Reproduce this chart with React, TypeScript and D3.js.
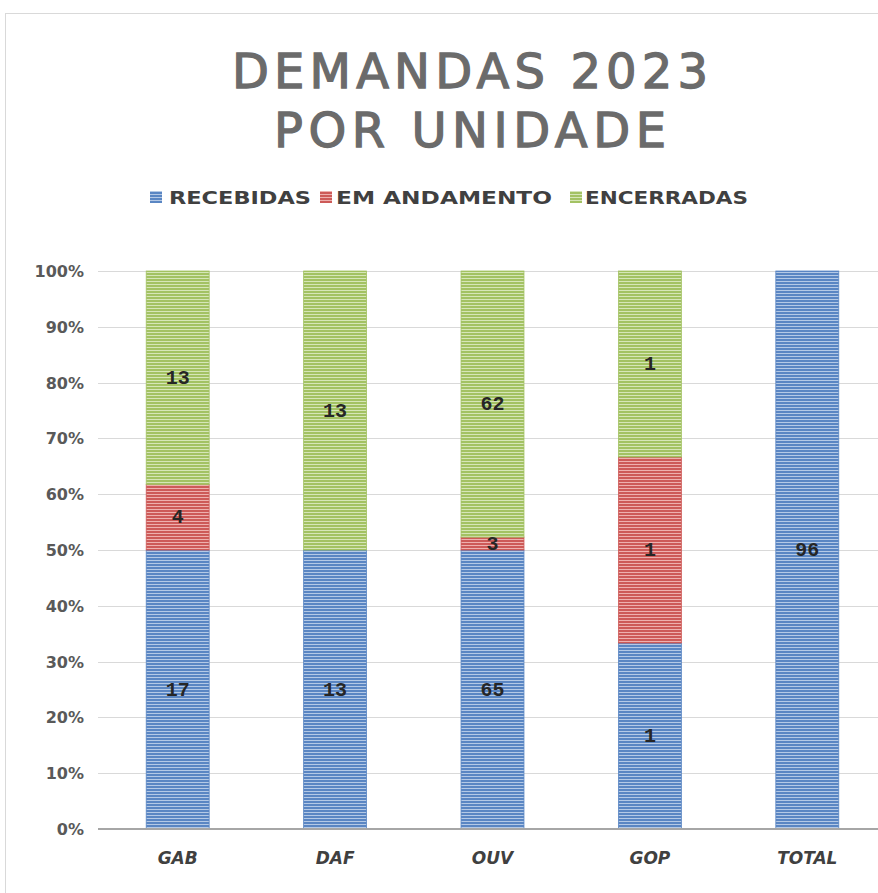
import React from "react";
import * as d3 from "d3";

const categories = ["GAB", "DAF", "OUV", "GOP", "TOTAL"];
const seriesNames = ["RECEBIDAS", "EM ANDAMENTO", "ENCERRADAS"];
const recebidas = [17, 13, 65, 1, 96];
const emAndamento = [4, 0, 3, 1, 0];
const encerradas = [13, 13, 62, 1, 0];
const yTicks = [0, 0.1, 0.2, 0.3, 0.4, 0.5, 0.6, 0.7, 0.8, 0.9, 1];

const colors = ["#5a86c3", "#cd5a58", "#a3c263"];
const lightColors = ["#b4c9e6", "#eeb0ae", "#d6e6b8"];

export default function App() {
  const W = 878, H = 893;
  const x = d3.scaleBand<string>().domain(categories).range([99, 886]).paddingInner(0.6).paddingOuter(0.3);
  const y = d3.scaleLinear().domain([0, 1]).range([829, 271]);
  const table = categories.map((c, i) => ({ cat: c, s0: recebidas[i], s1: emAndamento[i], s2: encerradas[i] }));
  const stack = d3.stack<any>().keys(["s0", "s1", "s2"]).offset(d3.stackOffsetExpand);
  const layers = stack(table);
  const font = "'DejaVu Sans', sans-serif";
  const legendItems = [
    { mx: 150, tx: 169, tw: 142 },
    { mx: 320, tx: 336, tw: 216 },
    { mx: 570, tx: 585, tw: 163 },
  ];
  return (
    <svg width={W} height={H} style={{ position: "absolute", left: 0, top: 0, background: "#fff" }}>
      <defs>
        {colors.map((c, i) => (
          <pattern key={i} id={`pat${i}`} width={4} height={3} patternUnits="userSpaceOnUse">
            <rect width={4} height={3} fill={lightColors[i]} />
            <rect width={4} height={2} fill={c} />
          </pattern>
        ))}
      </defs>
      <rect x={0} y={0} width={W} height={H} fill="#fff" />
      <line x1={5.5} x2={5.5} y1={13} y2={H} stroke="#d9d9d9" />
      <line x1={5} x2={W} y1={13.5} y2={13.5} stroke="#d9d9d9" />
      <text x={470} y={88} textAnchor="middle" fontFamily={font} fontSize={48} fill="#6b6b6b" stroke="#6b6b6b" strokeWidth={1.3} textLength={476} lengthAdjust="spacing">DEMANDAS 2023</text>
      <text x={470} y={147} textAnchor="middle" fontFamily={font} fontSize={48} fill="#6b6b6b" stroke="#6b6b6b" strokeWidth={1.3} textLength={392} lengthAdjust="spacing">POR UNIDADE</text>
      {seriesNames.map((s, i) => (
        <g key={s}>
          <rect x={legendItems[i].mx} y={191} width={12} height={12} fill={`url(#pat${i})`} />
          <text x={legendItems[i].tx} y={204} fontFamily={font} fontWeight="bold" fontSize={17} fill="#404040" textLength={legendItems[i].tw} lengthAdjust="spacingAndGlyphs">{s}</text>
        </g>
      ))}
      {yTicks.map((t) => (
        <g key={t}>
          {t > 0 && <line x1={98} x2={W} y1={Math.round(y(t)) + 0.5} y2={Math.round(y(t)) + 0.5} stroke="#d9d9d9" />}
          <text x={84} y={y(t) + 6} textAnchor="end" fontFamily={font} fontWeight="bold" fontSize={16} fill="#595959">{Math.round(t * 100) + "%"}</text>
        </g>
      ))}
      {layers.map((layer, li) => (
        <g key={li}>
          {layer.map((d, j) => {
            const h = y(d[0]) - y(d[1]);
            if (h <= 0) return null;
            return <rect key={j} x={x(categories[j])} y={y(d[1])} width={x.bandwidth()} height={h} fill={`url(#pat${li})`} stroke={colors[li]} strokeWidth={0.8} />;
          })}
        </g>
      ))}
      <line x1={98} x2={W} y1={829} y2={829} stroke="#a6a6a6" strokeWidth={2} />
      {layers.map((layer, li) => (
        <g key={"l" + li}>
          {layer.map((d, j) => {
            const v = (d.data as any)[layer.key];
            if (!v) return null;
            const cy = (y(d[0]) + y(d[1])) / 2;
            return <text key={j} x={x(categories[j])! + x.bandwidth() / 2} y={cy + 6} textAnchor="middle" fontFamily="'Liberation Mono', monospace" fontWeight="bold" fontSize={20} fill="#262626">{v}</text>;
          })}
        </g>
      ))}
      {categories.map((c) => (
        <text key={c} x={x(c)! + x.bandwidth() / 2} y={864} textAnchor="middle" fontFamily={font} fontWeight="bold" fontStyle="italic" fontSize={17} fill="#404040">{c}</text>
      ))}
    </svg>
  );
}
